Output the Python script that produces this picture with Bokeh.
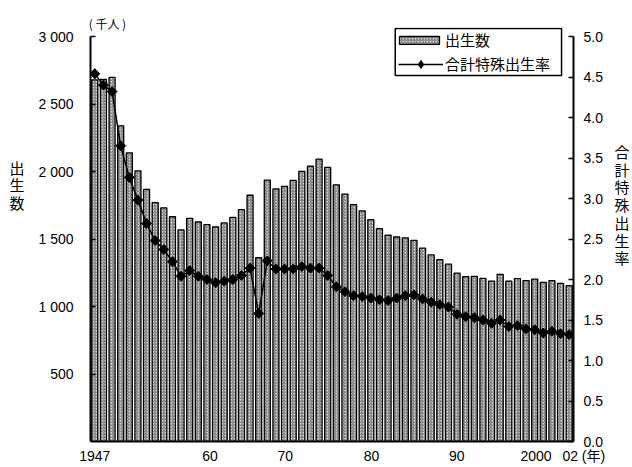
import math
from bokeh.plotting import figure
from bokeh.models import (Range1d, LinearAxis, FixedTicker, Legend, LegendItem,
                          BoxAnnotation)
from bokeh.embed import file_html
from bokeh.resources import INLINE

years = list(range(1947, 2003))
births = [2679, 2682, 2697, 2338, 2138, 2005, 1868, 1770, 1731, 1665, 1567, 1653,
          1626, 1606, 1589, 1619, 1660, 1717, 1824, 1361, 1936, 1872, 1890, 1934,
          2001, 2039, 2092, 2030, 1901, 1833, 1755, 1709, 1643, 1577, 1529, 1515,
          1509, 1490, 1432, 1383, 1347, 1314, 1247, 1222, 1223, 1209, 1188, 1238,
          1187, 1207, 1192, 1203, 1178, 1191, 1171, 1154]
tfr = [4.54, 4.40, 4.32, 3.65, 3.26, 2.98, 2.69, 2.48, 2.37, 2.22, 2.04, 2.11,
       2.04, 2.00, 1.96, 1.98, 2.00, 2.05, 2.14, 1.58, 2.23, 2.13, 2.13, 2.13,
       2.16, 2.14, 2.14, 2.05, 1.91, 1.85, 1.80, 1.79, 1.77, 1.75, 1.74, 1.77,
       1.80, 1.81, 1.76, 1.72, 1.69, 1.66, 1.57, 1.54, 1.53, 1.50, 1.46, 1.50,
       1.42, 1.43, 1.39, 1.38, 1.34, 1.36, 1.33, 1.32]

x_tick_years = [1947, 1960, 1970, 1980, 1990, 2000, 2002]
x_tick_labels = ["1947", "60", "70", "80", "90", "2000", "02"]
x_unit_label = "(年)"
left_ticks = [500, 1000, 1500, 2000, 2500, 3000]
left_tick_labels = ["500", "1 000", "1 500", "2 000", "2 500", "3 000"]
right_ticks = [0.0, 0.5, 1.0, 1.5, 2.0, 2.5, 3.0, 3.5, 4.0, 4.5, 5.0]
right_tick_labels = ["%.1f" % t for t in right_ticks]
left_title = "出生数"
right_title = "合計特殊出生率"
left_unit = "( 千人 )"
bar_name = "出生数"
line_name = "合計特殊出生率"

# ---------------- layout (pixels) ----------------
W, H = 632, 467
F_LEFT, F_RIGHT, F_TOP, F_BOTTOM = 90, 575, 27, 441
AXIS_TOP = 36                     # where the top tick (3000 / 5.0) sits
frame_w = F_RIGHT - F_LEFT
frame_h = F_BOTTOM - F_TOP
axis_h = F_BOTTOM - AXIS_TOP
px_per_year = frame_w / 56.0
# label nudges in pixels (style only)
x_label_nudge_px = [0, 3, -8, -8, -9, -16, 1]
# legend box (page pixels)
LB_LEFT, LB_RIGHT, LB_TOP, LB_BOTTOM = 396, 563, 28, 75

NUM_FONT = "'Liberation Sans', 'Noto Sans CJK JP'"
JP_FONT = "Noto Sans CJK JP"

p = figure(width=W, height=H, output_backend="svg", toolbar_location=None,
           x_range=Range1d(1946.5, 2002.5),
           y_range=Range1d(0, 3000 * frame_h / axis_h),
           min_border_left=F_LEFT, min_border_right=W - F_RIGHT,
           min_border_top=F_TOP, min_border_bottom=H - F_BOTTOM)
p.extra_y_ranges = {"tfr": Range1d(0, 5.0 * frame_h / axis_h),
                    "px": Range1d(0, frame_h)}
p.extra_x_ranges = {"px": Range1d(0, frame_w)}
p.outline_line_color = None
p.grid.visible = False
p.background_fill_color = "white"
p.border_fill_color = "white"

bars = p.vbar(x=years, top=births, width=0.7, bottom=0,
              fill_color="#d6d6d6", line_color="black", line_width=1.3,
              hatch_pattern="/", hatch_color="#4a4a4a", hatch_scale=3.0,
              hatch_weight=0.8)
ln = p.line(x=years, y=tfr, y_range_name="tfr", line_color="black", line_width=1.5)
sc = p.scatter(x=years, y=tfr, y_range_name="tfr", marker="square", size=7,
               angle=math.pi / 4, fill_color="black", line_color="black")
# legend proxy marker: a diamond hidden under the first data point
leg_marker = p.scatter(x=years[:1], y=tfr[:1], y_range_name="tfr", marker="diamond",
                       size=10, fill_color="black", line_color="black")

# ---------------- bottom axis ----------------
pad = "\u00a0" * 7
xa = p.xaxis[0]
x_pos = [yr + n / px_per_year for yr, n in zip(x_tick_years, x_label_nudge_px)]
x_text = list(x_tick_labels)
x_text[-1] = pad + x_text[-1] + "\u00a0" + x_unit_label
xa.ticker = FixedTicker(ticks=x_pos)
xa.major_label_overrides = {t: l for t, l in zip(x_pos, x_text)}
xa.axis_line_width = 2
xa.axis_line_color = "black"
xa.major_tick_line_color = None
xa.minor_tick_line_color = None
xa.major_label_standoff = 0
xa.major_label_text_font = NUM_FONT
xa.major_label_text_font_size = "14px"
xa.major_label_text_color = "black"

# ---------------- left axis ----------------
ya = p.yaxis[0]
ya.bounds = (0, 3000)
ya.ticker = FixedTicker(ticks=left_ticks)
ya.major_label_overrides = {t: l for t, l in zip(left_ticks, left_tick_labels)}
ya.axis_line_width = 2
ya.axis_line_color = "black"
ya.major_tick_in = 5
ya.major_tick_out = 0
ya.major_tick_line_width = 1.5
ya.minor_tick_line_color = None
ya.major_label_standoff = 17
ya.major_label_text_font = NUM_FONT
ya.major_label_text_font_size = "14px"
ya.major_label_text_color = "black"

# ---------------- right axis ----------------
ra = LinearAxis(y_range_name="tfr", bounds=(0, 5.0))
ra.ticker = FixedTicker(ticks=right_ticks)
ra.major_label_overrides = {t: l for t, l in zip(right_ticks, right_tick_labels)}
ra.axis_line_width = 2
ra.axis_line_color = "black"
ra.major_tick_in = 5
ra.major_tick_out = 0
ra.major_tick_line_width = 1.5
ra.minor_tick_line_color = None
ra.major_label_standoff = 10
ra.major_label_text_font = NUM_FONT
ra.major_label_text_font_size = "14px"
ra.major_label_text_color = "black"
p.add_layout(ra, "right")


def stacked_title_axis(chars, top_center_y, pitch, standoff):
    ys = [F_BOTTOM - (top_center_y + i * pitch) for i in range(len(chars))]
    ax = LinearAxis(y_range_name="px", ticker=FixedTicker(ticks=ys))
    ax.major_label_overrides = {t: c for t, c in zip(ys, chars)}
    ax.axis_line_color = None
    ax.major_tick_line_color = None
    ax.minor_tick_line_color = None
    ax.major_label_standoff = standoff
    ax.major_label_text_font = JP_FONT
    ax.major_label_text_font_size = "15px"
    ax.major_label_text_color = "black"
    return ax


p.add_layout(stacked_title_axis(list(left_title), 166.5, 17.5, 5), "left")
p.add_layout(stacked_title_axis(list(right_title), 151, 17.7, 3), "right")

# unit label above left axis
ua = LinearAxis(x_range_name="px", ticker=FixedTicker(ticks=[17.0]))
ua.major_label_overrides = {17.0: left_unit}
ua.axis_line_color = None
ua.major_tick_line_color = None
ua.minor_tick_line_color = None
ua.major_label_standoff = -10
ua.major_label_text_font = JP_FONT
ua.major_label_text_font_size = "12px"
ua.major_label_text_color = "black"
p.add_layout(ua, "above")

# ---------------- legend ----------------
box = BoxAnnotation(left=LB_LEFT - F_LEFT, right=LB_RIGHT - F_LEFT,
                    bottom=F_BOTTOM - LB_BOTTOM, top=F_BOTTOM - LB_TOP,
                    x_range_name="px", y_range_name="px",
                    fill_color="white", fill_alpha=1.0,
                    line_color="black", line_width=1.5, line_alpha=1.0)
p.add_layout(box)


def make_legend(item, x_left, row_bottom, gw, gh, standoff):
    lg = Legend(items=[item], location=(x_left - F_LEFT, F_BOTTOM - row_bottom),
                orientation="vertical")
    lg.margin = 0
    lg.padding = 0
    lg.spacing = 0
    lg.glyph_width = gw
    lg.glyph_height = gh
    lg.label_height = 20
    lg.label_standoff = standoff
    lg.label_text_font = NUM_FONT
    lg.label_text_font_size = "15px"
    lg.label_text_color = "black"
    lg.border_line_color = None
    lg.background_fill_alpha = 0.0
    return lg


p.add_layout(make_legend(LegendItem(label=bar_name, renderers=[bars]),
                         394, 50, 50, 10, 1), "center")
p.add_layout(make_legend(LegendItem(label=line_name, renderers=[ln, leg_marker]),
                         398, 74, 45, 20, 2), "center")

open("out.html", "w").write(file_html(p, INLINE))
